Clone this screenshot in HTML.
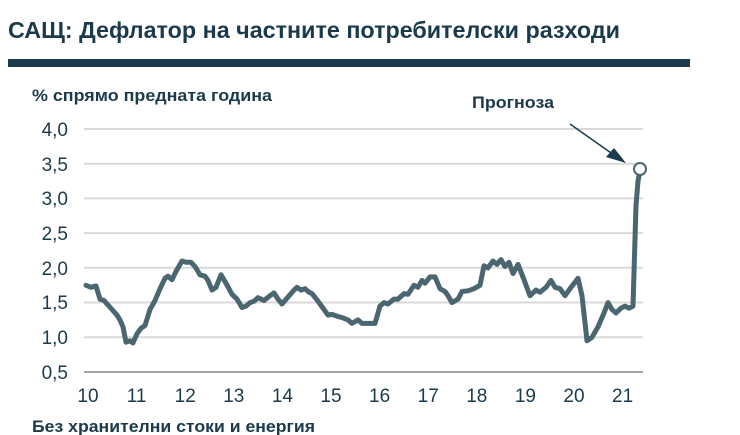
<!DOCTYPE html>
<html><head><meta charset="utf-8"><style>
body{margin:0;background:#fff;width:740px;height:435px;overflow:hidden}
svg{display:block}
text{font-family:"Liberation Sans",sans-serif}
</style></head><body>
<svg id="s" width="740" height="435" xmlns="http://www.w3.org/2000/svg">
<text x="8" y="38" font-size="23" font-weight="bold" fill="#1b3a4b" textLength="612" lengthAdjust="spacingAndGlyphs">САЩ: Дефлатор на частните потребителски разходи</text>
<rect x="8" y="59" width="682" height="8" fill="#1b3a4b"/>
<text x="32" y="101" font-size="17" font-weight="bold" fill="#1b3a4b" textLength="240" lengthAdjust="spacingAndGlyphs">% спрямо предната година</text>
<text x="472" y="108" font-size="17" font-weight="bold" fill="#1b3a4b" textLength="82" lengthAdjust="spacingAndGlyphs">Прогноза</text>
<g stroke="#d9d9d9" stroke-width="2">
<line x1="84" x2="643" y1="129" y2="129"/><line x1="84" x2="643" y1="163.7" y2="163.7"/>
<line x1="84" x2="643" y1="198.4" y2="198.4"/><line x1="84" x2="643" y1="233.1" y2="233.1"/>
<line x1="84" x2="643" y1="267.8" y2="267.8"/><line x1="84" x2="643" y1="302.5" y2="302.5"/>
<line x1="84" x2="643" y1="337.2" y2="337.2"/>
</g>
<line x1="84" x2="643" y1="372" y2="372" stroke="#a6a6a6" stroke-width="2"/>
<g font-size="19" fill="#1b3a4b" text-anchor="end">
<text x="68" y="136">4,0</text><text x="68" y="171">3,5</text>
<text x="68" y="205">3,0</text><text x="68" y="240">2,5</text>
<text x="68" y="275">2,0</text><text x="68" y="309">1,5</text>
<text x="68" y="344">1,0</text><text x="68" y="379">0,5</text>
</g>
<g id="xl" font-size="19" fill="#1b3a4b" text-anchor="middle"></g>
<text x="32" y="432" font-size="17" font-weight="bold" fill="#1b3a4b" textLength="283" lengthAdjust="spacingAndGlyphs">Без хранителни стоки и енергия</text>
<polyline id="ln" fill="none" stroke="#4a6670" stroke-width="5" stroke-linejoin="round" stroke-linecap="round"/>
<line x1="570" y1="124" x2="614" y2="155" stroke="#1b3a4b" stroke-width="1.5"/>
<polygon points="626,163 606,157 614,148" fill="#1b3a4b"/>
<circle cx="640" cy="169" r="6" fill="#fff" stroke="#4a6670" stroke-width="2"/>
</svg>
<script>
var d=[86,1.75,91,1.72,96,1.74,100,1.55,104,1.53,112,1.4,117,1.32,120,1.25,123,1.15,126,0.93,130,0.95,133,0.92,137,1.05,141,1.13,145,1.17,150,1.4,155,1.53,160,1.7,165,1.85,168,1.88,172,1.83,176,1.95,182,2.1,186,2.08,191,2.08,195,2.02,200,1.9,205,1.88,208,1.82,212,1.68,216,1.72,221,1.9,226,1.78,232,1.62,237,1.55,242,1.43,246,1.45,250,1.5,254,1.52,258,1.57,264,1.53,270,1.6,274,1.64,278,1.55,282,1.48,288,1.58,294,1.68,297,1.72,301,1.68,305,1.7,309,1.65,312,1.63,318,1.52,324,1.4,328,1.32,332,1.33,338,1.3,343,1.28,348,1.25,352,1.2,358,1.25,362,1.2,367,1.2,375,1.2,380,1.45,384,1.5,388,1.48,394,1.55,398,1.55,404,1.63,408,1.62,414,1.75,418,1.72,422,1.82,425,1.78,430,1.87,435,1.87,440,1.7,445,1.66,448,1.6,452,1.5,458,1.55,462,1.66,468,1.67,474,1.7,480,1.75,484,2.03,488,2.0,493,2.1,497,2.05,501,2.12,505,2.02,509,2.08,513,1.92,518,2.05,524,1.83,530,1.6,536,1.68,540,1.65,546,1.72,551,1.82,555,1.72,560,1.7,565,1.6,570,1.7,578,1.85,582,1.6,587,0.95,592,1.0,598,1.15,604,1.35,608,1.5,612,1.4,616,1.35,621,1.42,625,1.45,629,1.42,633,1.45,636,2.9,638,3.25,640,3.4];
var p=[];for(var i=0;i<d.length;i+=2)p.push(d[i]+","+(372-(d[i+1]-0.5)*69.4).toFixed(1));
document.getElementById("ln").setAttribute("points",p.join(" "));
var g=document.getElementById("xl"),h="";
for(var k=0;k<12;k++){h+='<text x="'+(88+k*48.6)+'" y="402">'+(10+k)+'</text>';}
g.innerHTML=h;
</script>
</body></html>
